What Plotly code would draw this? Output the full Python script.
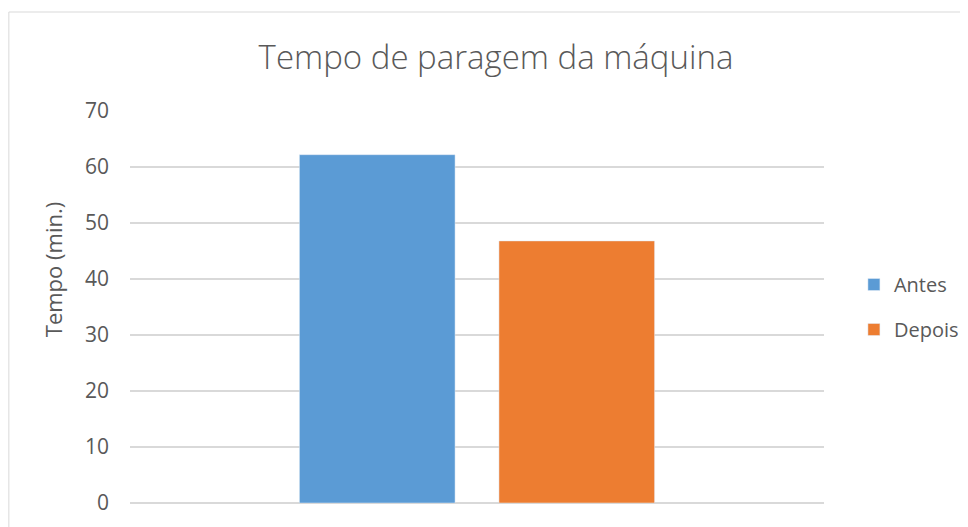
import plotly.graph_objects as go

categories = [""]
series_names = ["Antes", "Depois"]
antes = [62.2]
depois = [46.8]
colors = ["#5B9BD5", "#ED7D31"]

fig = go.Figure()
for i, (name, vals) in enumerate(zip(series_names, [antes, depois])):
    fig.add_trace(go.Bar(x=categories, y=vals, name=name, marker_color=colors[i],
                         legendgroup=name))

# page has an 8px body margin, so positions are in figure px (page px - 8)
L, T, W, H = 122, 103, 696, 392

def px_x(p):
    return (p - L) / W

def px_y(p):
    return (T + H - p) / H

# outer chart border like the Excel chart area
fig.add_shape(type="rect", xref="paper", yref="paper",
              x0=px_x(0.5), x1=px_x(958), y0=-0.2, y1=px_y(4),
              line=dict(color="#D9D9D9", width=1), layer="below")

# y axis title placed like Excel does it
fig.add_annotation(text="Tempo (min.)", textangle=-90, xref="paper", yref="paper",
                   x=px_x(45), y=px_y(262), xanchor="center", yanchor="middle",
                   showarrow=False, font=dict(size=22, color="#595959"))

fig.update_layout(
    width=968, height=527,
    margin=dict(l=L, r=968 - L - W, t=T, b=527 - T - H),
    paper_bgcolor="white", plot_bgcolor="white",
    font=dict(family="Open Sans", color="#595959", size=20),
    title=dict(text="Tempo de paragem da máquina", x=488 / 968, xanchor="center",
               y=1 - 49 / 527, yanchor="middle",
               font=dict(size=33, weight=300)),
    barmode="group", bargap=0.425, bargroupgap=0.22,
    showlegend=True,
    legend=dict(x=px_x(848), y=px_y(299), xanchor="left", yanchor="middle",
                bgcolor="rgba(0,0,0,0)",
                traceorder="grouped", tracegroupgap=16, font=dict(size=20)),
    xaxis=dict(showticklabels=False, showgrid=False, zeroline=False, showline=False),
    yaxis=dict(range=[0, 70], dtick=10, showgrid=True, gridcolor="#D9D9D9",
               gridwidth=1.5, zeroline=True, zerolinecolor="#D9D9D9", zerolinewidth=1.5,
               ticks="", ticklabelstandoff=20, tickfont=dict(size=21)),
)

fig.write_html("out.html")
